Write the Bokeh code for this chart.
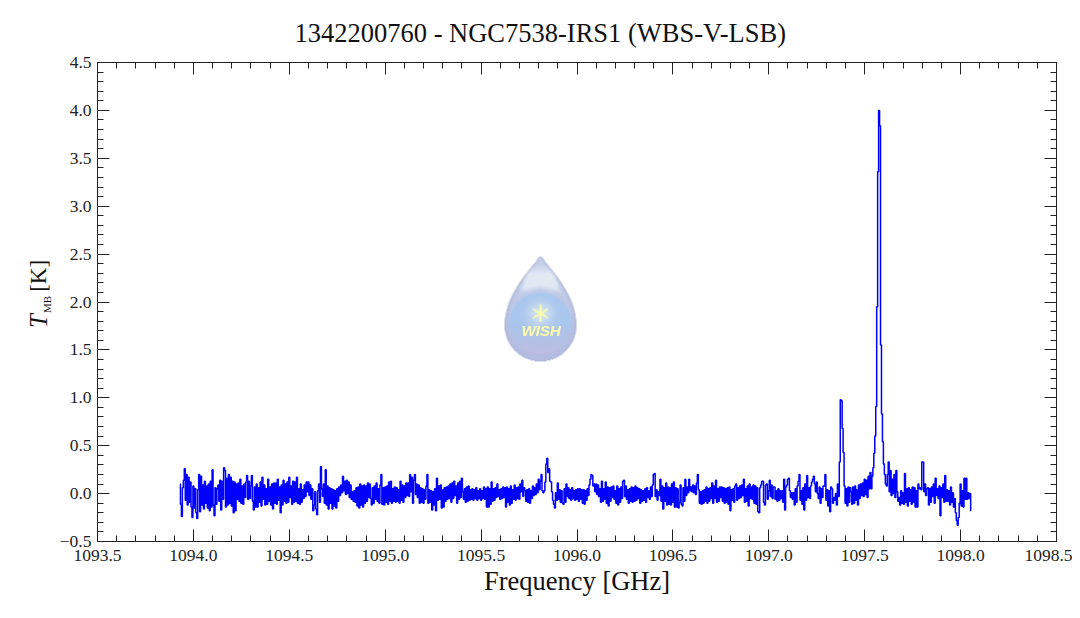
import numpy as np
from bokeh.plotting import figure
from bokeh.layouts import row
from bokeh.models import Label, LinearAxis, Range1d, FixedTicker, PrintfTickFormatter
from bokeh.embed import file_html
from bokeh.resources import INLINE

TITLE = "1342200760 - NGC7538-IRS1 (WBS-V-LSB)"
XLABEL = "Frequency [GHz]"
FREQ_START = 1093.93
FREQ_STOP = 1098.055
X_TICKS = [1093.5, 1094.0, 1094.5, 1095.0, 1095.5, 1096.0, 1096.5, 1097.0, 1097.5, 1098.0, 1098.5]
Y_TICKS = [-0.5, 0.0, 0.5, 1.0, 1.5, 2.0, 2.5, 3.0, 3.5, 4.0, 4.5]

# Antenna temperature, 20 channels per 0.1 GHz
tmb = [
 .10,-.11,-.24,.06,.14,.26,-.07,.20,-.12,.17,-.09,.12,-.14,-.25,.08,-.15,.05,-.20,-.26,.04,
 .20,-.19,.18,-.12,.09,-.16,.13,-.10,.08,-.15,.10,-.18,.13,-.14,.25,-.12,-.23,.06,-.11,.05,
 .09,-.08,.14,-.17,.13,-.06,.27,.24,-.14,.16,-.12,.20,-.10,.17,-.13,.13,-.20,.12,-.18,.10,
 -.06,.11,-.08,.15,-.10,.08,-.11,.10,-.04,.12,.19,-.06,.13,-.05,.08,.19,-.08,-.17,.07,-.14,
 .10,-.14,.06,-.09,.12,-.13,.17,-.06,.09,-.12,.05,-.11,.15,-.08,.07,-.12,.10,-.16,.11,-.10,
 .11,-.11,.15,-.07,.07,-.20,.09,-.12,.14,-.08,.10,-.10,.12,-.09,.17,-.04,.08,-.11,.13,-.09,
 .12,-.08,.17,-.10,.05,-.11,.10,-.09,.04,-.05,.09,-.03,.12,.02,.12,-.02,.09,-.06,.05,-.18,
 -.12,.02,-.16,-.22,.03,.10,-.09,.28,.05,-.03,.10,-.10,.25,-.12,.08,-.16,.06,-.10,.05,-.16,
 .04,-.13,.03,-.15,.05,-.08,.07,-.02,.09,.01,.18,.03,.13,-.01,.14,.00,.12,-.04,.09,-.06,
 .02,-.08,.03,-.09,.06,-.13,.07,-.15,.10,-.12,.08,-.14,.09,-.10,.08,-.08,.11,-.04,.10,-.05,
 -.12,.06,-.10,.08,-.06,.11,-.08,.05,-.10,.09,.20,-.11,.06,-.12,.07,-.09,.08,-.11,.12,-.08,
 .13,-.10,.05,-.08,.07,-.09,.06,-.08,.04,-.10,.13,-.07,.09,-.09,.08,-.04,.11,-.02,.11,-.03,
 .20,.02,.17,-.10,.14,.20,-.01,.10,-.04,.09,-.10,.06,-.09,.05,-.10,.04,-.06,.08,.20,-.10,
 .04,-.09,.03,-.17,.02,-.12,.05,-.18,.16,-.07,.08,-.06,.09,-.15,.04,-.14,.06,-.08,.07,-.06,
 .08,-.05,.10,-.09,.11,-.05,.13,-.02,.08,-.10,.11,-.06,.13,-.04,.16,.02,-.06,.05,-.09,.07,
 -.08,.08,-.07,.04,-.06,.05,-.07,.04,-.05,.06,-.07,.03,-.05,.05,-.07,.03,-.05,.07,-.06,.05,
 -.14,.07,-.14,.05,-.11,.12,-.08,.05,-.07,.06,-.04,.10,-.03,.04,-.06,.05,-.05,.07,-.04,.06,
 -.14,.07,-.09,.05,-.12,.08,-.10,.04,-.06,.09,-.07,.06,-.05,.07,-.06,.10,.02,.14,-.03,.06,
 .03,-.08,.04,-.09,.05,-.10,.03,-.05,.08,-.02,.06,-.01,.10,.01,.15,.04,.13,.20,.03,.01,
 .03,.12,.31,.37,.22,.26,.13,.12,.02,-.07,-.11,-.15,.01,-.07,.11,-.06,.04,-.09,.03,-.10,
 -.11,.05,-.09,.10,-.03,.06,-.05,.04,-.07,.06,-.05,.03,-.07,.04,-.06,.05,-.08,.05,-.06,.04,
 -.10,.04,-.11,.03,-.07,.05,-.02,.09,.15,.20,.19,.08,.10,.02,.10,-.01,.09,-.03,.05,-.09,
 .13,-.08,.05,-.06,.12,-.10,.07,-.13,.06,-.08,.07,-.04,.08,-.06,.03,-.10,.08,-.12,.05,-.09,
 .07,-.05,.13,.14,-.03,.08,-.06,.04,-.10,.05,-.08,.07,-.09,.06,-.08,.08,-.07,.06,-.05,.05,
 -.10,.04,-.08,.03,-.07,.05,-.09,.06,-.04,.03,-.06,.07,-.03,.09,.20,.21,-.03,.04,-.07,.02,
 -.02,.15,-.08,.08,-.16,.06,-.08,.11,-.12,.07,-.11,.06,-.12,.10,-.09,.12,-.14,.06,-.14,.05,
 -.15,-.09,.09,-.11,-.13,.06,-.08,.15,-.02,.07,.01,.15,.03,.07,.02,.09,.01,.08,-.01,.11,
 .20,.04,-.10,.02,-.11,.03,-.10,.04,-.08,.07,-.10,.05,-.08,.06,-.05,.11,-.10,.08,-.05,.14,
 -.09,.05,-.08,.07,-.04,.07,-.08,.06,-.10,.05,-.09,.06,-.11,.07,-.18,.04,-.07,.05,-.09,.08,
 .10,-.07,.06,-.05,.08,-.04,.09,-.02,.15,-.09,.05,-.08,.08,-.13,.10,-.05,.07,-.06,.09,-.10,
 .08,-.11,.06,-.19,-.20,.06,.09,.13,.13,-.09,-.12,.09,.10,-.06,.03,.14,-.03,.09,-.05,.07,
 .07,-.06,.03,-.08,.05,-.07,.03,-.05,.03,-.09,.15,-.17,.07,.09,.15,.16,.03,-.04,.01,-.06,
 .01,-.12,.05,-.09,.08,.13,.20,-.07,.03,-.11,.06,-.17,.10,-.07,.19,-.04,.06,-.05,.08,.12,
 .15,.18,.10,.02,.12,.00,-.05,.07,-.10,.05,-.04,.08,.08,.20,-.07,.04,-.13,.03,-.19,.07,
 .05,-.10,-.04,-.07,.00,-.12,.10,-.03,.33,.98,.97,.68,.43,.08,-.10,.05,-.13,.07,-.09,.06,
 .02,-.11,.07,-.10,.08,-.07,.04,-.12,.09,-.05,.10,-.02,.11,-.03,.15,-.01,.14,-.04,.18,.05,
 .22,.05,.18,.27,.42,.60,.91,1.95,3.36,4.00,3.84,1.55,.83,.54,.31,.20,.10,.08,.20,.33,
 .02,.24,-.02,.15,.00,.20,-.04,.24,.02,-.08,-.04,-.12,.03,-.10,.01,-.11,.21,-.09,.05,-.13,
 .06,-.08,.04,-.11,.07,-.09,.06,-.14,.03,-.14,.10,.05,.06,.04,.33,.33,.02,.10,-.02,.05,
 .06,-.12,.05,-.09,.07,-.03,.10,-.10,.16,-.02,.05,-.05,.08,-.23,.06,-.04,.10,-.09,.19,-.08,
 .04,-.08,.03,-.12,.07,-.09,.01,-.14,-.05,-.20,-.28,-.33,-.25,-.10,.10,-.13,.03,-.14,.16,-.06,
 .16,-.06,.01,-.05,.00,-.18,
]
freq = np.linspace(FREQ_START, FREQ_STOP, len(tmb))

SERIF = "Liberation Serif"
STRIP_W = 55
WIDTH, HEIGHT = 1072 - STRIP_W, 610
FRAME_L, FRAME_R, FRAME_T, FRAME_B = 97, 1056, 62, 541
X0, X1, Y0, Y1 = X_TICKS[0], X_TICKS[-1], Y_TICKS[0], Y_TICKS[-1]

def px_x(px):
    return X0 + (px - FRAME_L) * (X1 - X0) / (FRAME_R - FRAME_L)

def px_y(py):
    return Y1 - (py - FRAME_T) * (Y1 - Y0) / (FRAME_B - FRAME_T)

p = figure(width=WIDTH, height=HEIGHT, output_backend="svg", toolbar_location=None,
           x_range=Range1d(X0, X1), y_range=Range1d(Y0, Y1),
           min_border_left=FRAME_L - STRIP_W, min_border_right=WIDTH + STRIP_W - FRAME_R,
           min_border_top=FRAME_T, min_border_bottom=HEIGHT - FRAME_B)
p.grid.visible = False
p.outline_line_color = None
p.background_fill_color = "white"
p.border_fill_color = "white"

ticker_x = FixedTicker(ticks=X_TICKS, minor_ticks=[round(X0 + 0.1 * i, 1) for i in range(51)])
ticker_y = FixedTicker(ticks=Y_TICKS, minor_ticks=[round(Y0 + 0.1 * i, 1) for i in range(51)])

def style(ax, labels):
    ax.axis_line_color = "#222222"
    ax.axis_line_width = 1
    ax.major_tick_line_color = "#222222"
    ax.minor_tick_line_color = "#222222"
    ax.major_tick_in = 12
    ax.major_tick_out = 0
    ax.minor_tick_in = 6
    ax.minor_tick_out = 0
    if labels:
        ax.major_label_text_font = SERIF
        ax.major_label_text_font_size = "17.5px"
        ax.major_label_text_color = "#222222"
        ax.formatter = PrintfTickFormatter(format="%.1f")
    else:
        ax.major_label_text_font_size = "0px"
        ax.major_label_text_color = None

p.xaxis.ticker = ticker_x
p.yaxis.ticker = ticker_y
style(p.xaxis[0], True)
style(p.yaxis[0], True)
p.yaxis[0].major_label_overrides = {-0.5: "\u22120.5"}
p.xaxis[0].major_label_standoff = 8
p.yaxis[0].major_label_standoff = 6
p.xaxis[0].axis_label = XLABEL
p.xaxis[0].axis_label_text_font = SERIF
p.xaxis[0].axis_label_text_font_style = "normal"
p.xaxis[0].axis_label_text_font_size = "26.5px"
p.xaxis[0].axis_label_text_color = "#111111"
p.xaxis[0].axis_label_standoff = 2

top = LinearAxis(ticker=ticker_x, axis_label=None)
right = LinearAxis(ticker=ticker_y, axis_label=None)
style(top, False)
style(right, False)
p.add_layout(top, "above")
p.add_layout(right, "right")

p.title.text = TITLE
p.title.text_font = SERIF
p.title.text_font_style = "normal"
p.title.text_font_size = "26.5px"
p.title.text_color = "#111111"
p.title.align = "left"
p.title.offset = 197
p.title.standoff = 29

# Decorative WISH droplet, rendered as an RGBA raster behind the spectrum
SS = 3
L, R, T, B = 503, 577, 255, 362
W_, H_ = (R - L) * SS, (B - T) * SS
yy, xx = np.mgrid[0:H_, 0:W_]
px = L + (xx + 0.5) / SS
py = T + (yy + 0.5) / SS
cx, cy, rad, tip = 540.0, 325.0, 36.0, 256.0
u = np.clip((py - tip) / (cy - tip), 0, 1)
half = rad * np.sin(np.pi / 2 * u ** 0.95)
half = np.maximum(half, np.minimum(np.sqrt(np.clip(4 * (py - tip), 0, None)), 4))
half = np.where(py > cy, np.sqrt(np.clip(rad ** 2 - (py - cy) ** 2, 0, None)), half)
half = np.maximum(half, 0.01)
edge = half - np.abs(px - cx)
alpha = np.clip(edge * 1.5 + 0.5, 0, 1)
rim = np.clip(1 - edge / 4.0, 0, 1)[..., None]
grad = np.clip((py - 256) / 100, 0, 1)[..., None]
col = np.array((200, 211, 235)) * (1 - grad) + np.array((180, 188, 224)) * grad
cres = (np.clip((py - 264) / 10, 0, 1) * np.clip((290 - py + np.abs(px - cx) * 0.2) / 6, 0, 1)
        * np.clip((15 - np.abs(px - cx) + (py - 264) * 0.25) / 5, 0, 1))[..., None]
col = col * (1 - cres) + np.array((226, 233, 245)) * cres
dist = np.hypot(px - cx, py - 323)
ball = np.clip((32 - dist) / 2.0, 0, 1)[..., None]
low = np.clip((py - 322) / 28, 0, 1)[..., None]
inner = np.array((168, 198, 238)) * (1 - low) + np.array((186, 190, 226)) * low
col = col * (1 - ball) + inner * ball
col = col * (1 - rim * 0.7) + np.array((174, 180, 216)) * rim * 0.7
ds = np.hypot(px - cx, py - 313)
glow = np.exp(-(ds / 12.0) ** 2)[..., None] * 0.8
col = col * (1 - glow) + np.array((226, 238, 240)) * glow
ang = np.arctan2(py - 313, px - cx)
star_r = 3.0 + 6.5 * np.abs(np.sin(3 * ang)) ** 6
star = np.clip((star_r - ds) * 1.2, 0, 1)[..., None]
col = col * (1 - star) + np.array((250, 250, 170)) * star
rgba = np.zeros((H_, W_), dtype=np.uint32)
view = rgba.view(np.uint8).reshape(H_, W_, 4)
view[..., :3] = np.clip(col, 0, 255).astype(np.uint8)
view[..., 3] = (alpha * 255).astype(np.uint8)
p.image_rgba(image=[rgba[::-1]], x=px_x(L), y=px_y(B), dw=px_x(R) - px_x(L), dh=px_y(T) - px_y(B))
p.add_layout(Label(x=px_x(540.5), y=px_y(330), text="WISH", text_align="center", text_baseline="middle",
                   text_font="Liberation Sans", text_font_style="bold italic", text_font_size="15px",
                   text_color="#FBFBA8"))

p.step(freq, tmb, mode="center", line_color="#0000FF", line_width=1.5)

# Narrow blank strip left of the plot holds the y title, because labels clip to a frame
strip = figure(width=STRIP_W, height=HEIGHT, output_backend="svg", toolbar_location=None,
               x_range=Range1d(0, STRIP_W), y_range=Range1d(HEIGHT, 0),
               min_border_left=0, min_border_right=0, min_border_top=0, min_border_bottom=0)
strip.axis.visible = False
strip.grid.visible = False
strip.outline_line_color = None
strip.border_fill_color = "white"
rot = np.pi / 2
for txt, style_, size, bx, by in (("T", "italic", "25px", 38, 338),
                                  ("MB", "normal", "11px", 46, 319),
                                  ("[K]", "normal", "23px", 38, 292)):
    strip.add_layout(Label(x=bx, y=by, text=txt, angle=rot, text_align="left", text_baseline="alphabetic",
                           text_font=SERIF, text_font_style=style_, text_font_size=size, text_color="#111111"))

open("out.html", "w").write(file_html(row(strip, p, spacing=0), INLINE))
